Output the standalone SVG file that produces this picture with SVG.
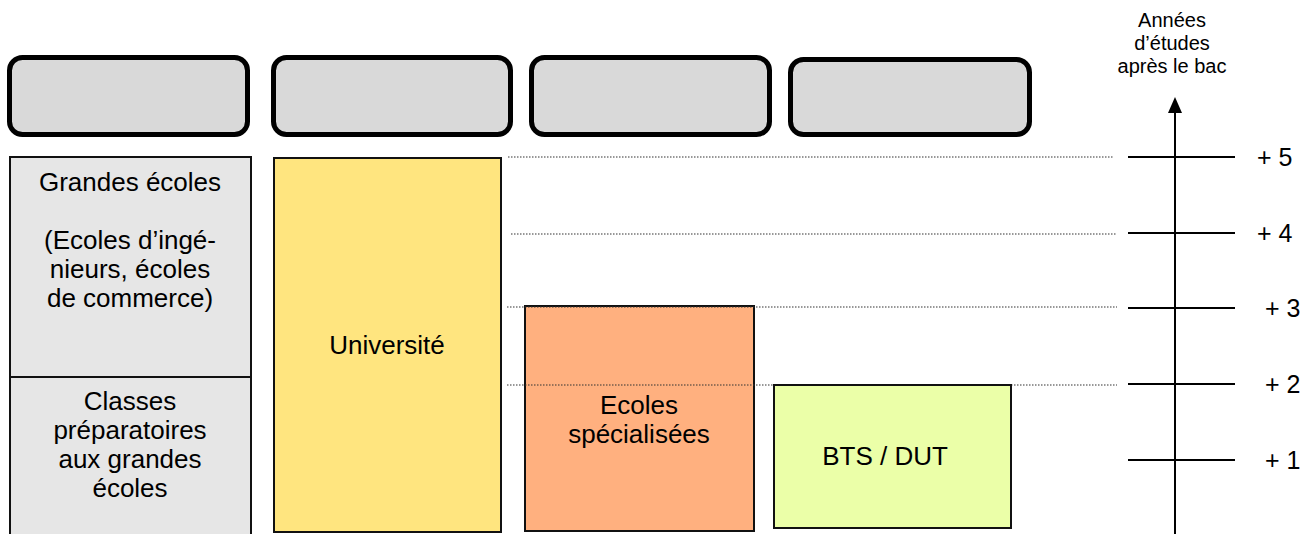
<svg xmlns="http://www.w3.org/2000/svg" width="1310" height="534" viewBox="0 0 1310 534">
<style>
text{font-family:"Liberation Sans",Arial,sans-serif;fill:#000}
.hdr{fill:#d9d9d9;stroke:#000;stroke-width:5}
.col{stroke:#111;stroke-width:2}
.lbl{font-size:26px;text-anchor:middle}
.yr{font-size:25px}
.dot{stroke:#333;stroke-width:1.2;stroke-dasharray:1.5 1.5;fill:none}
.tick{stroke:#000;stroke-width:2;fill:none}
</style>
<rect width="1310" height="534" fill="#fff"/>
<g id="headers">
<rect id="h1" class="hdr" x="9.5" y="57.5" width="238" height="77" rx="13"/>
<rect id="h2" class="hdr" x="273.5" y="57.5" width="237" height="77" rx="13"/>
<rect id="h3" class="hdr" x="531.5" y="57.5" width="238" height="77" rx="13"/>
<rect id="h4" class="hdr" x="790.5" y="59.5" width="239" height="75" rx="13"/>
</g>
<g id="grandes-ecoles">
<rect class="col" x="10" y="157" width="241" height="390" fill="#e6e6e6"/>
<line class="col" x1="10" y1="377" x2="251" y2="377"/>
<text class="lbl" x="130" y="191">Grandes écoles</text>
<text class="lbl" x="130" y="249">(Ecoles d’ingé-</text>
<text class="lbl" x="130" y="278">nieurs, écoles</text>
<text class="lbl" x="130" y="307">de commerce)</text>
</g>
<g id="classes-prepa">
<text class="lbl" x="130" y="410">Classes</text>
<text class="lbl" x="130" y="439">préparatoires</text>
<text class="lbl" x="130" y="468">aux grandes</text>
<text class="lbl" x="130" y="497">écoles</text>
</g>
<g id="universite">
<rect class="col" x="274" y="158" width="227" height="374" fill="#ffe57f"/>
<text class="lbl" x="387" y="354">Université</text>
</g>
<g id="ecoles-specialisees">
<rect class="col" x="525" y="306" width="229" height="225" fill="#ffb07f"/>
<text class="lbl" x="639" y="414">Ecoles</text>
<text class="lbl" x="639" y="443">spécialisées</text>
</g>
<g id="connectors">
<line class="dot" x1="508" y1="157" x2="1113" y2="157"/>
<line class="dot" x1="511" y1="234" x2="1117" y2="234"/>
<line class="dot" x1="507" y1="307" x2="1117" y2="307"/>
<line class="dot" x1="507" y1="385" x2="1117" y2="385"/>
</g>
<g id="bts-dut">
<rect class="col" x="774" y="385" width="237" height="143" fill="#ebffa8"/>
<text class="lbl" x="885" y="465">BTS / DUT</text>
</g>
<g id="axis">
<line class="tick" x1="1175" y1="110" x2="1175" y2="534"/>
<polygon points="1175,97 1168,113 1182,113" fill="#000"/>
<line class="tick" x1="1128" y1="157" x2="1235" y2="157"/>
<line class="tick" x1="1128" y1="233" x2="1235" y2="233"/>
<line class="tick" x1="1128" y1="308" x2="1235" y2="308"/>
<line class="tick" x1="1128" y1="384" x2="1235" y2="384"/>
<line class="tick" x1="1128" y1="460" x2="1235" y2="460"/>
<text class="yr" x="1257" y="166">+ 5</text>
<text class="yr" x="1257" y="242">+ 4</text>
<text class="yr" x="1265" y="317">+ 3</text>
<text class="yr" x="1265" y="393">+ 2</text>
<text class="yr" x="1265" y="469">+ 1</text>
<text x="1172" y="27" font-size="20" text-anchor="middle">Années</text>
<text x="1172" y="50" font-size="20" text-anchor="middle">d’études</text>
<text x="1172" y="73" font-size="20" text-anchor="middle">après le bac</text>
</g>
</svg>
